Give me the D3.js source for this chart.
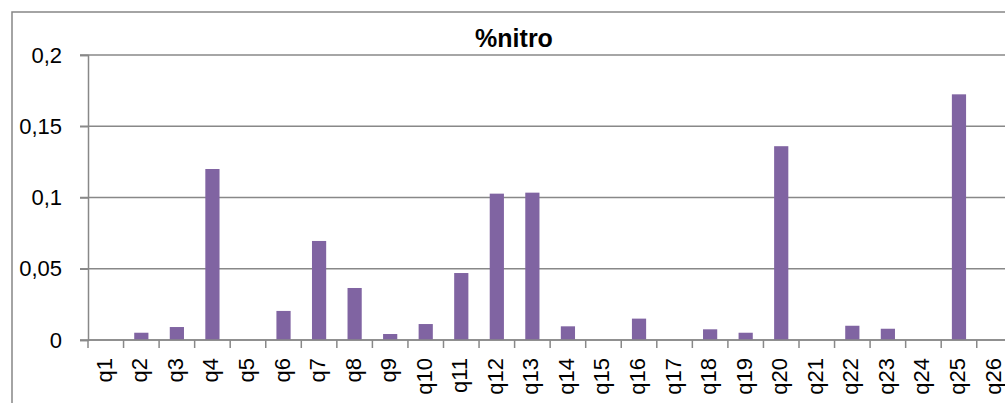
<!DOCTYPE html>
<html>
<head>
<meta charset="utf-8">
<script src="https://cdn.jsdelivr.net/npm/d3@7"></script>
<style>
  body { margin: 0; background: #fff; }
  svg { display: block; }
  .tick text { font-family: "Liberation Sans", Arial, sans-serif; font-size: 22px; fill: #000; }
  .grid line { stroke: #888; stroke-width: 1.5px; }
</style>
</head>
<body>
<svg id="chart"></svg>
<script>
// data
var categories = ["q1","q2","q3","q4","q5","q6","q7","q8","q9","q10","q11","q12","q13",
  "q14","q15","q16","q17","q18","q19","q20","q21","q22","q23","q24","q25","q26"];
var nitro = [0, 0.0051, 0.0091, 0.12, 0, 0.0204, 0.0695, 0.0365, 0.0042, 0.0112, 0.047, 0.1027, 0.1034,
  0.0096, 0, 0.015, 0, 0.0075, 0.0051, 0.136, 0, 0.01, 0.0079, 0, 0.1724, 0];
var yTicks = [0, 0.05, 0.1, 0.15, 0.2];
var title = "%nitro";

var data = categories.map(function(c, i) { return { cat: c, value: nitro[i] }; });

var W = 1005, H = 403;
var plotLeft = 88, plotTop = 55, plotBottom = 340;
var step = 35.55;
var barW = 14.2;

var svg = d3.select("#chart").attr("width", W).attr("height", H);

// one band per category, no padding; bars centred in it
var x = d3.scaleBand()
  .domain(categories)
  .range([plotLeft, plotLeft + step * categories.length]);

var y = d3.scaleLinear().domain([0, 0.2]).range([plotBottom, plotTop]);

// outer chart border
svg.append("path")
  .attr("d", "M12," + H + " L12,12 L" + W + ",12")
  .attr("fill", "none")
  .attr("stroke", "#868686")
  .attr("stroke-width", 1.5);

// gridlines
svg.append("g")
  .attr("class", "grid")
  .selectAll("line")
  .data(yTicks)
  .enter().append("line")
    .attr("x1", plotLeft - 8)
    .attr("x2", W)
    .attr("y1", function(d) { return y(d); })
    .attr("y2", function(d) { return y(d); });

// title
svg.append("text")
  .attr("x", 514)
  .attr("y", 47)
  .attr("text-anchor", "middle")
  .style("font-family", "'Liberation Sans', Arial, sans-serif")
  .style("font-weight", "bold")
  .style("font-size", "25px")
  .text(title);

// bars
svg.append("g").selectAll("rect")
  .data(data)
  .enter().append("rect")
    .attr("x", function(d) { return x(d.cat) + (step - barW) / 2; })
    .attr("width", barW)
    .attr("y", function(d) { return y(d.value); })
    .attr("height", function(d) { return plotBottom - y(d.value); })
    .attr("fill", "#8064A2");

// y axis
var yAxis = svg.append("g")
  .attr("transform", "translate(" + plotLeft + ",0)")
  .call(d3.axisLeft(y).tickValues(yTicks).tickSize(8).tickPadding(18)
    .tickFormat(function(d) { return d3.format("")(d).replace(".", ","); }));
yAxis.select(".domain").attr("stroke", "#888").attr("stroke-width", 1.5);
yAxis.selectAll(".tick line").attr("stroke", "#888").attr("stroke-width", 1.5);

// x axis: line + ticks at category boundaries
var xg = svg.append("g");
xg.append("line")
  .attr("x1", plotLeft).attr("x2", W)
  .attr("y1", plotBottom).attr("y2", plotBottom)
  .attr("stroke", "#888").attr("stroke-width", 1.5);
xg.selectAll(".bt")
  .data(categories)
  .enter().append("line")
    .attr("x1", function(d) { return x(d); })
    .attr("x2", function(d) { return x(d); })
    .attr("y1", plotBottom).attr("y2", plotBottom + 8)
    .attr("stroke", "#888").attr("stroke-width", 1.5);

xg.selectAll(".lbl")
  .data(categories)
  .enter().append("text")
    .attr("class", "lbl")
    .attr("transform", function(d) {
      return "translate(" + (x(d) + step / 2 + 6) + "," + (plotBottom + 18) + ") rotate(-90)";
    })
    .attr("text-anchor", "end")
    .style("font-family", "'Liberation Sans', Arial, sans-serif")
    .style("font-size", "22px")
    .text(function(d) { return d; });
</script>
</body>
</html>
